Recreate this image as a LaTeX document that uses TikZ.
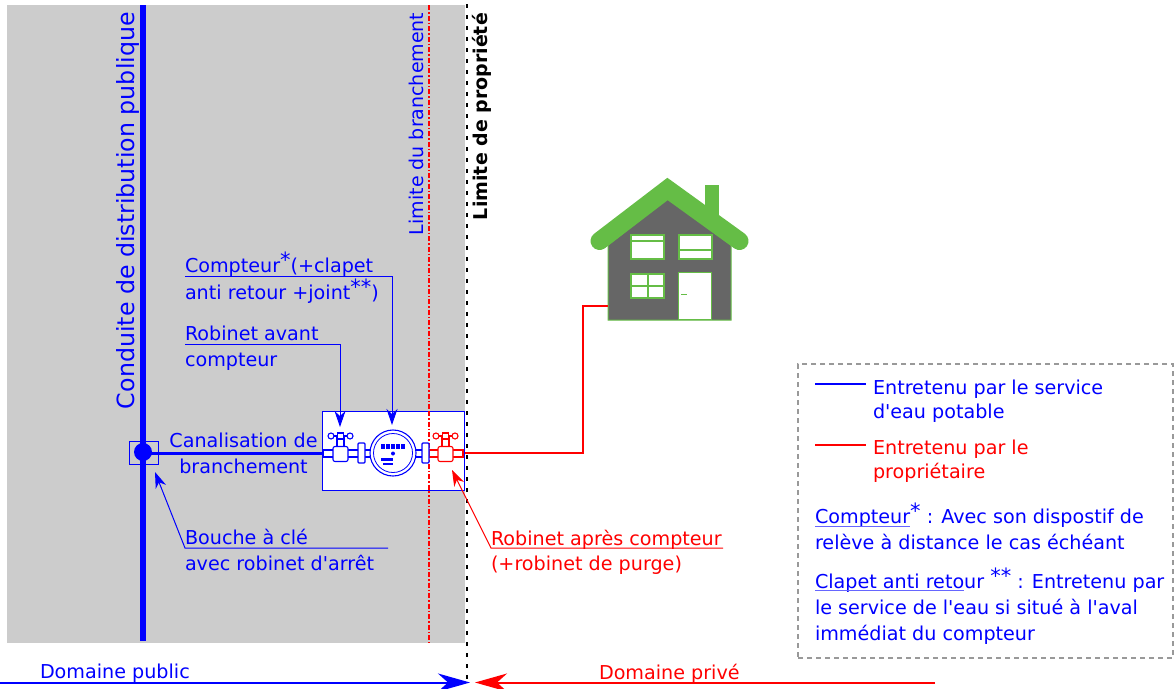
\documentclass[tikz,border=0pt]{standalone}
\usepackage{fontspec}
\newfontfamily\djv{DejaVu Sans}
\usetikzlibrary{arrows.meta}
\definecolor{pubblue}{RGB}{0,0,255}
\definecolor{privred}{RGB}{255,0,0}
\definecolor{zonegray}{RGB}{204,204,204}
\definecolor{roofgreen}{RGB}{101,189,70}
\definecolor{wallgray}{RGB}{102,102,102}
\definecolor{legendgray}{RGB}{153,153,153}
\newcommand{\starup}[1]{\raisebox{5pt}{\fontsize{21}{21}\selectfont #1}}
\newcommand{\drawvalve}[2]{%
  \begin{scope}[shift={(#1,453)}]
    \draw[#2,line width=1.1,fill=white] (-3.5,-17) rectangle (3.5,-6);
    \draw[#2,line width=1.1] (-9.5,-17) circle (3) (9.5,-17) circle (3);
    \draw[#2,line width=1.1] (-6.5,-17) -- (-3,-17) (3,-17) -- (6.5,-17);
    \draw[#2,line width=1.1,fill=white] (-3,-20) rectangle (3,-14);
    \draw[#2,line width=1.1,fill=white,rounded corners=2] (-7.5,-6.5) rectangle (7.5,8.5);
  \end{scope}}
\tikzset{
  lbl/.style={inner sep=0,outer sep=0,anchor=base west,font=\djv\fontsize{19.15}{19}\selectfont,text=pubblue},
  lblc/.style={lbl,anchor=base},
  redlbl/.style={lbl,text=privred},
  vert/.style={inner sep=0,outer sep=0,anchor=base west,rotate=90},
  thinblue/.style={draw=pubblue,line width=1},
  thinred/.style={draw=privred,line width=1},
  callout/.style={thinblue,-{Stealth[length=16,width=11,inset=5]}},
  calloutred/.style={thinred,-{Stealth[length=16,width=11,inset=5]}},
  bigarrow/.style={line width=2,-{Stealth[length=32,width=18,inset=10]}},
  partbox/.style={draw=pubblue,line width=1.2,fill=white,inner sep=0},
  wnd/.style={draw=roofgreen,line width=2,fill=white}
}
\begin{document}
\begin{tikzpicture}[x=1pt,y=-1pt]
\useasboundingbox (0,0) rectangle (1174,688);
\fill[white] (0,0) rectangle (1174,688);
% public zone
\fill[zonegray] (7,5) rectangle (465,643);
\draw[privred,line width=1.3,dash pattern=on 5pt off 2pt on 1.5pt off 2pt] (429,5) -- (429,643);
\draw[black,line width=2.6,dash pattern=on 4pt off 7pt] (467,4) -- (467,680);
% main pipe
\coordinate (pipetop) at (143,5);
\coordinate (pipebot) at (143,641);
\draw[pubblue,line width=6] (pipetop) -- (pipebot);
\node[partbox,line width=0.9,fill=none,minimum width=29,minimum height=23] (keybox) at (143.5,452.5) {};
\node[circle,fill=pubblue,minimum size=18,inner sep=0] (keydot) at (143,452) {};
% meter box
\node[partbox,minimum width=142,minimum height=79,anchor=north west] (meterbox) at (322,411) {};
\draw[privred,line width=1.3,dash pattern=on 5pt off 2pt on 1.5pt off 2pt] (429,411) -- (429,490);
% branch
\draw[pubblue,line width=3] (keydot.center |- 0,453) -- (meterbox.west |- 0,453);
% pipe pieces
\draw[pubblue,line width=1.1,fill=white] (323,450) rectangle (429,457);
\draw[privred,line width=1.1,fill=white] (429,450) rectangle (463,457);
\drawvalve{340.5}{pubblue}
\drawvalve{445.5}{privred}
\draw[pubblue,line width=1.1,fill=white,rounded corners=1] (358,443) rectangle (365,463);
\draw[pubblue,line width=1.1,fill=white,rounded corners=1] (422,443) rectangle (429,463);
% meter
\node[circle,draw=pubblue,line width=1.1,fill=white,minimum size=46,inner sep=0] (meter) at (393,453) {};
\draw[pubblue,line width=0.8] (393,453) circle (19.5);
\foreach \i in {0,...,4}{\fill[pubblue] (381+\i*5,444) rectangle ++(4,5);}
\fill[pubblue] (393,453.5) circle (2);
\fill[pubblue] (381,457.5) rectangle (393,460.5);
\fill[pubblue] (383,462.5) rectangle (393,465);
% house
\fill[wallgray,draw=roofgreen,line width=1] (608,320) -- (608,245) -- (668,198) -- (731,245) -- (731,320) -- cycle;
\fill[roofgreen] (705,185) rectangle (719,215);
\draw[roofgreen,line width=18,line cap=round,line join=miter] (599.5,241) -- (667.5,189) -- (739.5,241);
\node[wnd,minimum width=33,minimum height=24,inner sep=0,anchor=north west] (w1) at (630,234) {};
\draw[roofgreen,line width=2] (w1.west |- 0,241) -- (w1.east |- 0,241);
\node[wnd,minimum width=33,minimum height=24,inner sep=0,anchor=north west] (w2) at (678,234) {};
\draw[roofgreen,line width=2] (w2.west |- 0,250) -- (w2.east |- 0,250);
\node[wnd,minimum width=33,minimum height=24,inner sep=0,anchor=north west] (w3) at (630,273) {};
\draw[roofgreen,line width=2] (w3.north) -- (w3.south) (w3.west |- 0,286) -- (w3.east |- 0,286);
\node[wnd,line width=1.4,minimum width=33,minimum height=47,inner sep=0,anchor=north west] (door) at (678,272) {};
\draw[roofgreen,line width=1.6] (681,294.5) -- (687,294.5);
\coordinate (housein) at (608,306);
% red service line
\draw[privred,line width=2] (housein) -- (583,306) -- (583,453) -- (meterbox.east |- 0,453);
% labels
\node[vert,text=pubblue,font=\djv\fontsize{23.7}{24}\selectfont] (tconduite) at (134,409) {Conduite de distribution publique};
\node[vert,text=pubblue,font=\djv\fontsize{19}{19}\selectfont] (tbranch) at (423,235) {Limite du branchement};
\node[vert,text=black,font=\djv\fontsize{19}{19}\selectfont\bfseries] (tprop) at (487,220) {Limite de propriété};
\node[lblc] (tcan) at (243.5,447) {Canalisation de};
\node[lblc] (tbr) at (243.5,473) {branchement};
\node[lbl] (tc1) at (185,272) {Compteur\starup{*}(+clapet};
\node[lbl] (tc2) at (185,299) {anti retour +joint\starup{**})};
\node[lbl] (tr1) at (185,340) {Robinet avant};
\node[lbl] (tr2) at (185,366) {compteur};
\node[lbl] (tb1) at (185,544) {Bouche à clé};
\node[lbl] (tb2) at (185,570) {avec robinet d'arrêt};
\node[redlbl] (ta1) at (491,545) {Robinet après compteur};
\node[redlbl] (ta2) at (491,570) {(+robinet de purge)};
% callouts
\coordinate (c1s) at (185,276);
\coordinate (c1e) at (392,276);
\coordinate (c1t) at (392,425);
\coordinate (c2s) at (185,344);
\coordinate (c2e) at (340,344);
\coordinate (c2t) at (340,427);
\draw[callout] (c1s) -- (c1e) -- (c1t);
\draw[callout] (c2s) -- (c2e) -- (c2t);
\coordinate (c3e) at (388,548);
\coordinate (c3s) at (185,548);
\coordinate (c3t) at (155,472);
\draw[callout] (c3e) -- (c3s) -- (c3t);
\coordinate (c4e) at (723,548);
\coordinate (c4s) at (491,548);
\coordinate (c4t) at (452,470);
\draw[calloutred] (c4e) -- (c4s) -- (c4t);
% domain arrows
\coordinate (pubs) at (0,682.5);
\coordinate (pube) at (470,682.5);
\coordinate (pris) at (935,682.5);
\coordinate (prie) at (475,682.5);
\draw[bigarrow,draw=pubblue,fill=pubblue] (pubs) -- (pube);
\draw[bigarrow,draw=privred,fill=privred] (pris) -- (prie);
\node[lbl] (tpub) at (40,678) {Domaine public};
\node[redlbl] (tpri) at (599,679) {Domaine privé};
% legend
\node[draw=legendgray,line width=2.2,dash pattern=on 5pt off 4pt,minimum width=375,minimum height=294,inner sep=0,anchor=north west] (legend) at (797,363) {};
\coordinate (l1a) at (815,384);
\coordinate (l1b) at (866,384);
\coordinate (l2a) at (815,445);
\coordinate (l2b) at (866,445);
\draw[pubblue,line width=1.6] (l1a) -- (l1b);
\draw[privred,line width=1.6] (l2a) -- (l2b);
\node[lbl] (e1) at (873,394) {Entretenu par le service};
\node[lbl] (e2) at (873,418) {d'eau potable};
\node[redlbl] (e3) at (873,454) {Entretenu par le};
\node[redlbl] (e4) at (873,478) {propriétaire};
\node[lbl] (n1) at (815,523) {Compteur\starup{*} : Avec son dispostif de};
\node[lbl] (n2) at (815,549) {relève à distance le cas échéant};
\node[lbl] (n3) at (815,588) {Clapet anti retour \starup{**} : Entretenu par};
\node[lbl] (n4) at (815,614) {le service de l'eau si situé à l'aval};
\node[lbl] (n5) at (815,640) {immédiat du compteur};
\coordinate (u1a) at (815,526);
\coordinate (u1b) at (910,526);
\coordinate (u2a) at (815,590.5);
\coordinate (u2b) at (964,590.5);
\draw[pubblue!60,line width=0.8] (u1a) -- (u1b) (u2a) -- (u2b);
\end{tikzpicture}
\end{document}
